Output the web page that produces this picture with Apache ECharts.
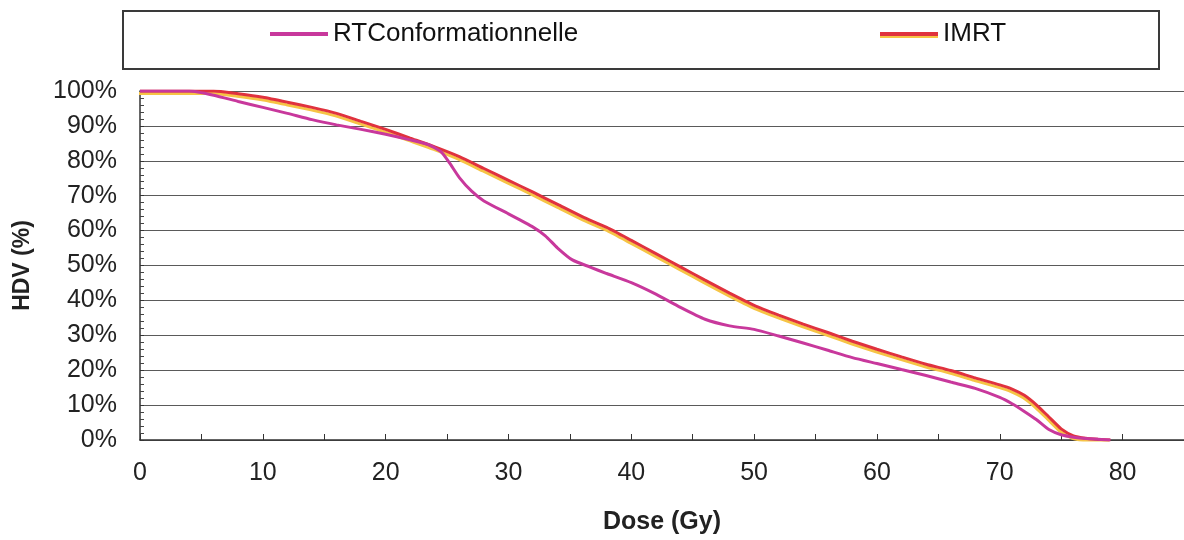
<!DOCTYPE html>
<html>
<head>
<meta charset="utf-8">
<script src="https://cdn.jsdelivr.net/npm/echarts@6/dist/echarts.min.js"></script>
<style>
  html, body { margin: 0; padding: 0; background: #fff; }
  #chart { width: 1184px; height: 540px; }
</style>
</head>
<body>
<div id="chart"></div>
<script>
// Dose-volume histogram: conformal RT vs IMRT
const seriesNames = ['RTConformationnelle', 'IMRT'];

const doseRT = [0, 4, 6, 8, 10, 12, 14, 16, 18, 20, 22, 23.5, 24.5, 25.2, 26, 27, 28, 30, 32, 33, 34, 35.2, 36.6, 38, 40, 42, 44, 46, 48, 50, 52, 54, 56, 58, 60, 62, 64, 66, 68, 70, 71, 72, 73, 74, 75, 76, 77, 79];
const hdvRT  = [100, 100, 98.8, 97, 95.3, 93.6, 91.8, 90.3, 89, 87.6, 86, 84.6, 82.6, 79.4, 75.2, 71.3, 68.5, 64.8, 61, 58.5, 55, 51.6, 49.6, 47.7, 45.1, 41.8, 38, 34.6, 32.7, 31.7, 29.8, 27.8, 25.7, 23.6, 21.9, 20.2, 18.5, 16.6, 14.8, 12.2, 10.4, 8.2, 5.8, 3.0, 1.5, 0.8, 0.4, 0];

const doseIMRT = [0, 6, 8, 10, 12, 14, 16, 18, 20, 22, 24, 26, 28, 30, 32, 34, 36, 38, 40, 42, 44, 46, 48, 50, 52, 54, 56, 58, 60, 62, 64, 66, 68, 70, 71, 72, 73, 74, 75, 76, 77, 78, 79];
const hdvIMRT  = [100, 100, 99.2, 98.2, 96.8, 95.3, 93.6, 91.3, 89, 86.5, 84, 81.2, 77.8, 74.4, 71, 67.5, 64, 60.9, 57.2, 53.4, 49.6, 45.8, 42.1, 38.6, 35.8, 33.2, 30.8, 28.3, 26, 23.8, 21.7, 19.9, 17.8, 15.8, 14.6, 12.8, 10, 6.6, 3.2, 1.2, 0.5, 0.2, 0];

const xTicks = [0, 10, 20, 30, 40, 50, 60, 70, 80];

const pairs = (xs, ys) => xs.map((x, i) => [x, ys[i]]);

const FONT = '"Liberation Sans", Arial, sans-serif';
const RT_COLOR = '#c8389c';
const IMRT_COLOR = '#e0323e';
const IMRT_EDGE = '#f6c445';

const chart = echarts.init(document.getElementById('chart'), null, { renderer: 'canvas' });

const legendText = { fontFamily: FONT, fontSize: 26, color: '#111' };

chart.setOption({
  backgroundColor: '#ffffff',
  animation: false,
  graphic: [{
    type: 'rect',
    left: 122, top: 10,
    shape: { width: 1036, height: 58 },
    style: { fill: '#fff', stroke: '#3a3a3a', lineWidth: 2 },
    z: -1
  }],
  legend: [
    {
      data: [{ name: seriesNames[0], icon: 'rect',
               itemStyle: { color: RT_COLOR } }],
      left: 270, top: 21, padding: 0,
      itemWidth: 58, itemHeight: 4,
      textStyle: legendText
    },
    {
      data: [{ name: seriesNames[1], icon: 'rect',
               itemStyle: { color: IMRT_COLOR, shadowColor: IMRT_EDGE, shadowBlur: 0, shadowOffsetY: 2 } }],
      left: 880, top: 21, padding: 0,
      itemWidth: 58, itemHeight: 4,
      textStyle: legendText
    }
  ],
  grid: { left: 140, right: 0, top: 91, bottom: 100, containLabel: false },
  xAxis: {
    type: 'value',
    min: 0, max: 85, interval: 10,
    name: 'Dose (Gy)',
    nameLocation: 'middle',
    nameGap: 70,
    nameTextStyle: { fontFamily: FONT, fontSize: 25, fontWeight: 'bold', color: '#222' },
    axisLine: { show: true, lineStyle: { color: '#333', width: 1.5 } },
    axisTick: { show: true, inside: true, length: 6, lineStyle: { color: '#333' },
      customValues: xTicks },
    minorTick: { show: true, splitNumber: 2, length: 6, lineStyle: { color: '#333' } },
    splitLine: { show: false },
    axisLabel: {
      fontFamily: FONT, fontSize: 25, color: '#222', margin: 21,
      customValues: xTicks
    }
  },
  yAxis: {
    type: 'value',
    min: 0, max: 100, interval: 10,
    name: 'HDV (%)',
    nameLocation: 'middle',
    nameGap: 106,
    nameRotate: 90,
    nameTextStyle: { fontFamily: FONT, fontSize: 23, fontWeight: 'bold', color: '#222' },
    axisLine: { show: true, lineStyle: { color: '#333', width: 1.5 } },
    axisTick: { show: true, inside: true, length: 4, lineStyle: { color: '#333' } },
    minorTick: { show: true, splitNumber: 5, length: 4, lineStyle: { color: '#444' } },
    splitLine: { show: true, lineStyle: { color: '#5a5a5a', width: 1.2 } },
    axisLabel: {
      fontFamily: FONT, fontSize: 25, color: '#222', margin: 23,
      formatter: v => v + '%'
    }
  },
  series: [
    {
      name: seriesNames[0],
      type: 'line',
      data: pairs(doseRT, hdvRT),
      symbol: 'none',
      smooth: 0.2,
      lineStyle: { color: RT_COLOR, width: 3 },
      itemStyle: { color: RT_COLOR },
      z: 3
    },
    {
      name: seriesNames[1],
      type: 'line',
      data: pairs(doseIMRT, hdvIMRT),
      symbol: 'none',
      smooth: 0.2,
      lineStyle: {
        color: IMRT_COLOR, width: 3,
        shadowColor: IMRT_EDGE, shadowBlur: 0, shadowOffsetX: -1, shadowOffsetY: 2.5
      },
      itemStyle: { color: IMRT_COLOR },
      z: 2
    }
  ]
});
</script>
</body>
</html>
